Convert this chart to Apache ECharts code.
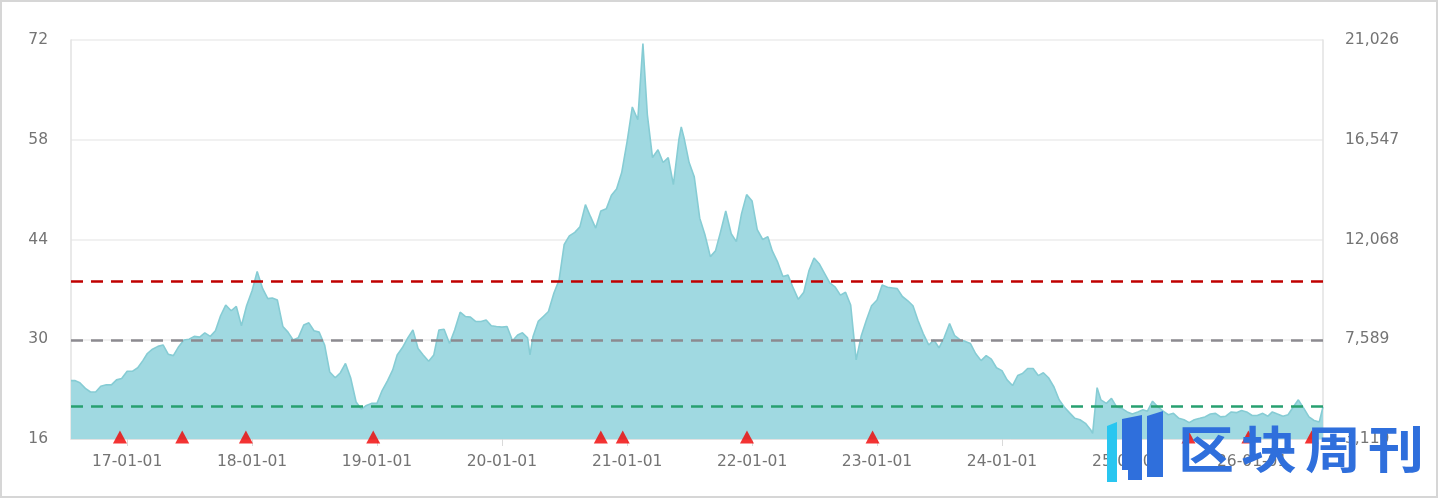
<!DOCTYPE html>
<html><head><meta charset="utf-8">
<script src="https://cdn.jsdelivr.net/npm/echarts@6/dist/echarts.min.js"></script>
<style>
html,body{margin:0;padding:0;background:#fff;}
#c{width:1438px;height:498px;position:absolute;left:0;top:0;}
#frame{position:absolute;left:0;top:0;width:1434px;height:494px;border:2px solid #d6d6d6;pointer-events:none;}
</style>
</head><body><div id="c"></div><div id="frame"></div>
<script>
// ---- data ----
const dates = [
'2016-07-21','2016-08-01','2016-08-16','2016-09-01','2016-09-16','2016-10-01','2016-10-16','2016-11-01','2016-11-16','2016-12-01','2016-12-16',
'2017-01-01','2017-01-16','2017-02-01','2017-02-16','2017-03-01','2017-03-16','2017-04-01','2017-04-16','2017-05-01','2017-05-16','2017-06-01','2017-06-16',
'2017-07-01','2017-07-16','2017-08-01','2017-08-16','2017-09-01','2017-09-16','2017-10-01','2017-10-16','2017-11-01','2017-11-16','2017-12-01','2017-12-16',
'2018-01-01','2018-01-16','2018-02-01','2018-02-16','2018-03-01','2018-03-16','2018-04-01','2018-04-16','2018-05-01','2018-05-16','2018-06-01','2018-06-16',
'2018-07-01','2018-07-16','2018-08-01','2018-08-16','2018-09-01','2018-09-16','2018-10-01','2018-10-16','2018-11-01','2018-11-16','2018-12-01','2018-12-16',
'2019-01-01','2019-01-16','2019-02-01','2019-02-16','2019-03-01','2019-03-16','2019-04-01','2019-04-16','2019-05-01','2019-05-16','2019-06-01','2019-06-16',
'2019-07-01','2019-07-16','2019-08-01','2019-08-16','2019-09-01','2019-09-16','2019-10-01','2019-10-16','2019-11-01','2019-11-16','2019-12-01','2019-12-16',
'2020-01-01','2020-01-16','2020-02-01','2020-02-16','2020-03-01','2020-03-16','2020-03-23','2020-04-01','2020-04-16','2020-05-01','2020-05-16','2020-06-01','2020-06-16',
'2020-07-01','2020-07-16','2020-08-01','2020-08-16','2020-09-01','2020-09-16','2020-10-01','2020-10-16','2020-11-01','2020-11-16','2020-12-01','2020-12-16',
'2021-01-01','2021-01-16','2021-02-01','2021-02-16','2021-03-01','2021-03-16','2021-04-01','2021-04-16','2021-05-01','2021-05-16','2021-06-01','2021-06-08','2021-06-16',
'2021-07-01','2021-07-16','2021-08-01','2021-08-16','2021-09-01','2021-09-16','2021-10-01','2021-10-16','2021-11-01','2021-11-16','2021-12-01','2021-12-16',
'2022-01-01','2022-01-16','2022-02-01','2022-02-16','2022-03-01','2022-03-16','2022-04-01','2022-04-16','2022-05-01','2022-05-16','2022-06-01','2022-06-16',
'2022-07-01','2022-07-16','2022-08-01','2022-08-16','2022-09-01','2022-09-16','2022-10-01','2022-10-16','2022-11-01','2022-11-16','2022-12-01','2022-12-16',
'2023-01-01','2023-01-16','2023-02-01','2023-02-16','2023-03-01','2023-03-16','2023-04-01','2023-04-16','2023-05-01','2023-05-16','2023-06-01','2023-06-16',
'2023-07-01','2023-07-16','2023-08-01','2023-08-16','2023-09-01','2023-09-16','2023-10-01','2023-10-16','2023-11-01','2023-11-16','2023-12-01','2023-12-16',
'2024-01-01','2024-01-16','2024-02-01','2024-02-16','2024-03-01','2024-03-16','2024-04-01','2024-04-16','2024-05-01','2024-05-16','2024-06-01','2024-06-16',
'2024-07-01','2024-07-16','2024-08-01','2024-08-16','2024-09-01','2024-09-16','2024-09-22','2024-10-01','2024-10-05','2024-10-16','2024-11-01','2024-11-16','2024-12-01','2024-12-16',
'2025-01-01','2025-01-16','2025-02-01','2025-02-16','2025-03-01','2025-03-16','2025-04-01','2025-04-16','2025-05-01','2025-05-16','2025-06-01','2025-06-16',
'2025-07-01','2025-07-16','2025-08-01','2025-08-16','2025-09-01','2025-09-16','2025-10-01','2025-10-16','2025-11-01','2025-11-16','2025-12-01','2025-12-16',
'2026-01-01','2026-01-16','2026-02-01','2026-02-16','2026-03-01','2026-03-16','2026-04-01','2026-04-16','2026-05-01','2026-05-16','2026-06-01','2026-06-16',
'2026-07-01','2026-07-16','2026-07-27'
];
const peValues = [
24.2,24.2,23.9,23.1,22.6,22.6,23.4,23.6,23.6,24.3,24.5,
25.5,25.5,26.0,27.0,28.0,28.6,29.0,29.2,27.9,27.7,29.0,29.9,
30.0,30.4,30.3,30.9,30.4,31.2,33.3,34.8,34.0,34.6,31.9,34.7,
36.8,39.5,37.1,35.7,35.8,35.5,31.8,31.0,29.9,30.2,32.0,32.3,
31.2,31.0,29.2,25.4,24.6,25.3,26.6,24.6,21.2,20.2,20.7,21.0,
21.0,22.8,24.2,25.7,27.8,28.8,30.2,31.3,28.7,27.8,26.9,27.8,
31.3,31.4,29.4,31.3,33.8,33.2,33.1,32.5,32.5,32.7,31.9,31.8,
31.7,31.8,29.8,30.6,30.9,30.2,27.8,30.4,32.5,33.2,33.9,36.5,38.3,
43.3,44.5,45.0,45.8,48.9,47.2,45.6,48.0,48.3,50.2,51.1,53.4,
57.8,62.6,60.8,71.5,61.5,55.5,56.6,54.8,55.5,51.7,58.0,59.8,58.3,
54.8,52.8,47.0,44.7,41.6,42.4,45.1,48.0,44.8,43.7,47.6,50.3,
49.4,45.4,44.0,44.4,42.4,40.9,38.8,39.0,37.2,35.6,36.6,39.6,
41.4,40.6,39.2,37.9,37.3,36.2,36.6,34.8,27.1,30.5,32.7,34.7,
35.5,37.6,37.3,37.2,37.1,36.0,35.4,34.7,32.6,30.8,29.2,29.9,
28.8,30.2,32.2,30.5,29.9,29.7,29.4,28.0,27.0,27.7,27.2,26.0,
25.6,24.3,23.5,24.9,25.2,25.9,25.9,24.9,25.3,24.6,23.3,21.5,
20.5,19.7,18.9,18.7,18.2,17.3,16.8,21.2,23.2,21.5,21.0,21.7,20.5,20.3,
19.8,19.5,19.8,20.1,19.9,21.3,20.5,19.9,19.4,19.6,18.9,18.7,
18.3,18.7,18.9,19.1,19.5,19.6,19.1,19.2,19.8,19.7,20.0,19.8,
19.3,19.3,19.6,19.2,19.8,19.5,19.2,19.4,20.5,21.5,20.3,19.1,
18.6,18.4,20.5
];
const signalDates = ['2016-12-11','2017-06-11','2017-12-14','2018-12-21','2020-10-16','2020-12-19','2021-12-17','2022-12-19','2025-06-29','2025-12-21','2026-06-24'];
const bandValues = [38.1, 29.9, 20.6];
const bandColors = ['#c00000', '#8c8a90', '#27a070'];
const leftAxis = { min: 16, max: 72, step: 14 };
const rightAxis = { min: 3110, max: 21026, step: 4479 };
const xRange = ['2016-07-21', '2026-07-27'];
const watermarkText = ['区', '块', '周', '刊'];

// ---- chart ----
const pad = n => (n < 10 ? '0' : '') + n;
const labelFont = { fontFamily: 'DejaVu Sans', fontSize: 15.5, color: '#747474' };
const chart = echarts.init(document.getElementById('c'), null, { renderer: 'canvas' });
const seriesData = dates.map((d, i) => [d, peValues[i]]);
const signalData = signalDates.map(d => [d, leftAxis.min]);

const wmX = [1206, 1269, 1333, 1396];
const graphics = [
  { type: 'polygon', z: 100, shape: { points: [[1107,426],[1117,422],[1117,482],[1107,482]] }, style: { fill: '#29c6f0' } },
  { type: 'polygon', z: 100, shape: { points: [[1122,419],[1142,415],[1142,480],[1128,480],[1128,470],[1122,470]] }, style: { fill: '#2f6fdc' } },
  { type: 'polygon', z: 100, shape: { points: [[1147,416],[1163,411],[1163,477],[1147,477]] }, style: { fill: '#2f6fdc' } }
].concat(watermarkText.map((t, i) => ({
  type: 'text', z: 100, x: wmX[i], y: 449,
  style: { text: t, fill: '#2f6fdc', font: 'bold 50px "Noto Sans CJK SC"', align: 'center', verticalAlign: 'middle' },
  scaleX: 1.12
})));

chart.setOption({
  animation: false,
  backgroundColor: '#ffffff',
  grid: { left: 71, right: 115, top: 40, bottom: 59 },
  xAxis: {
    type: 'time',
    min: xRange[0], max: xRange[1],
    splitNumber: 10,
    minInterval: 360 * 86400000,
    maxInterval: 370 * 86400000,
    axisLine: { show: true, lineStyle: { color: '#e2e2e2', width: 1 } },
    axisTick: { show: true, length: 7, lineStyle: { color: '#dadada' } },
    splitLine: { show: false },
    axisLabel: Object.assign({
      margin: 15,
      formatter: v => { const d = new Date(v); return String(d.getFullYear()).slice(2) + '-' + pad(d.getMonth() + 1) + '-' + pad(d.getDate()); }
    }, labelFont)
  },
  yAxis: [{
    type: 'value', min: leftAxis.min, max: leftAxis.max, interval: leftAxis.step,
    axisLine: { show: true, lineStyle: { color: '#e2e2e2', width: 1.5 } },
    axisTick: { show: false },
    splitLine: { show: true, lineStyle: { color: '#ececec', width: 1.5 } },
    axisLabel: Object.assign({ margin: 23 }, labelFont)
  }, {
    type: 'value', min: rightAxis.min, max: rightAxis.max, interval: rightAxis.step,
    position: 'right',
    axisLine: { show: true, lineStyle: { color: '#e2e2e2', width: 1.5 } },
    axisTick: { show: false },
    splitLine: { show: false },
    axisLabel: Object.assign({ margin: 22, formatter: v => v.toLocaleString('en-US') }, labelFont)
  }],
  series: [{
    type: 'line',
    data: seriesData,
    yAxisIndex: 0,
    symbol: 'none',
    lineStyle: { color: '#86ccd4', width: 1.6 },
    areaStyle: { color: '#a0d9e1', opacity: 1, origin: 'start' },
    z: 2,
    markLine: {
      silent: true, symbol: 'none', label: { show: false },
      data: bandValues.map((v, i) => ({ yAxis: v, lineStyle: { color: bandColors[i], type: [12, 8], width: 2.6 } }))
    }
  }, {
    type: 'scatter',
    data: signalData,
    yAxisIndex: 0,
    symbol: 'triangle',
    symbolSize: [14, 13],
    symbolOffset: [0, -2],
    clip: false,
    itemStyle: { color: '#f00000' },
    z: 5
  }],
  graphic: graphics
});
</script>
</body></html>
